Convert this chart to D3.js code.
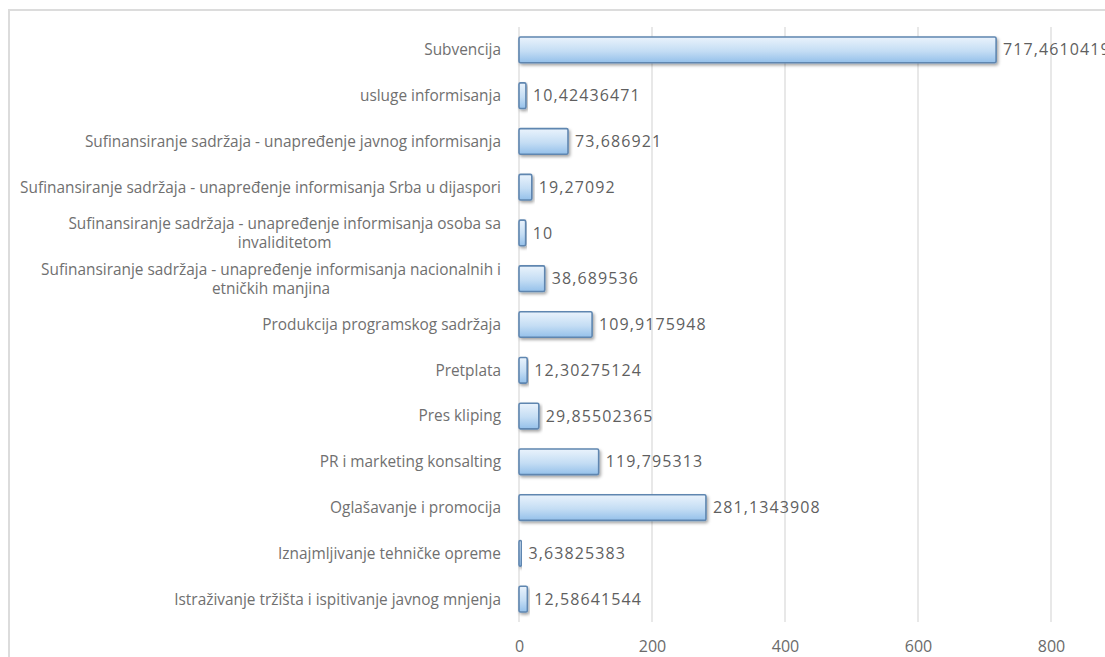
<!DOCTYPE html>
<html>
<head>
<meta charset="utf-8">
<script src="https://cdn.jsdelivr.net/npm/d3@7"></script>
<style>
  html, body { margin: 0; padding: 0; background: #fff; }
  svg { display: block; }
</style>
</head>
<body>
<svg id="chart" width="1105" height="657"></svg>
<script>
// Budget items (top to bottom) and their amounts
const categories = [
  "Subvencija",
  "usluge informisanja",
  "Sufinansiranje sadržaja - unapređenje javnog informisanja",
  "Sufinansiranje sadržaja - unapređenje informisanja Srba u dijaspori",
  "Sufinansiranje sadržaja - unapređenje informisanja osoba sa invaliditetom",
  "Sufinansiranje sadržaja - unapređenje informisanja nacionalnih i etničkih manjina",
  "Produkcija programskog sadržaja",
  "Pretplata",
  "Pres kliping",
  "PR i marketing konsalting",
  "Oglašavanje i promocija",
  "Iznajmljivanje tehničke opreme",
  "Istraživanje tržišta i ispitivanje javnog mnjenja"
];
const values = [
  717.4610419, 10.42436471, 73.686921, 19.27092, 10, 38.689536,
  109.9175948, 12.30275124, 29.85502365, 119.795313, 281.1343908,
  3.63825383, 12.58641544
];
const tickValues = [0, 200, 400, 600, 800];

const svg = d3.select("#chart");
const plot = { left: 519, right: 1051, top: 27, bottom: 622 };
const labelRight = 501;
const labelMaxWidth = 495;
const font = "'Open Sans', 'DejaVu Sans', sans-serif";
const catSize = 15.4;

// Chart frame
svg.append("rect")
  .attr("x", 9).attr("y", 10).attr("width", 1200).attr("height", 700)
  .attr("fill", "#fff").attr("stroke", "#dcdcdc").attr("stroke-width", 2);

const defs = svg.append("defs");
const grad = defs.append("linearGradient")
  .attr("id", "barFill").attr("x1", 0).attr("y1", 0).attr("x2", 0).attr("y2", 1);
grad.append("stop").attr("offset", "0%").attr("stop-color", "#eaf3fc");
grad.append("stop").attr("offset", "55%").attr("stop-color", "#c4ddf4");
grad.append("stop").attr("offset", "100%").attr("stop-color", "#94c0ea");
const shadow = defs.append("filter").attr("id", "barShadow")
  .attr("x", "-20%").attr("y", "-30%").attr("width", "140%").attr("height", "170%");
shadow.append("feDropShadow")
  .attr("dx", 1.5).attr("dy", 2).attr("stdDeviation", 1.4)
  .attr("flood-color", "#000").attr("flood-opacity", 0.35);

const x = d3.scaleLinear().domain([0, 800]).range([plot.left, plot.right]);
const y = d3.scaleBand().domain(categories).range([plot.top, plot.bottom]).paddingInner(0.44).paddingOuter(0.22);

// Vertical gridlines
svg.append("g").selectAll("line").data(tickValues).join("line")
  .attr("x1", d => x(d)).attr("x2", d => x(d))
  .attr("y1", plot.top).attr("y2", plot.bottom)
  .attr("stroke", "#d9d9d9").attr("stroke-width", 1.2);

// X axis tick labels
const xAxis = d3.axisBottom(x).tickValues(tickValues).tickSize(0).tickPadding(0).tickFormat(d3.format("d"));
const xg = svg.append("g").attr("transform", `translate(0,${plot.bottom + 19})`).call(xAxis);
xg.select(".domain").remove();
xg.selectAll("text")
  .attr("font-family", font).attr("font-size", 16).attr("fill", "#6b6b6b");

// Bars
svg.append("g").selectAll("rect").data(values).join("rect")
  .attr("x", x(0))
  .attr("y", (d, i) => y(categories[i]))
  .attr("width", d => x(d) - x(0))
  .attr("height", y.bandwidth())
  .attr("rx", 1.5)
  .attr("fill", "url(#barFill)")
  .attr("stroke", "#5f86b0").attr("stroke-width", 1.6)
  .attr("filter", "url(#barShadow)");

// Value labels
svg.append("g").selectAll("text").data(values).join("text")
  .attr("x", d => x(d) + 7)
  .attr("y", (d, i) => y(categories[i]) + y.bandwidth() / 2)
  .attr("dy", "0.35em")
  .attr("font-family", font).attr("font-size", 16).attr("letter-spacing", 1.1)
  .attr("fill", "#5f5f5f")
  .text(d => String(d).replace(".", ","));

// Category labels, wrapped when too wide and centred line by line
const catG = svg.append("g");
categories.forEach((c, i) => {
  const cy = y(c) + y.bandwidth() / 2;
  const probe = catG.append("text").attr("font-family", font).attr("font-size", catSize);
  const words = c.split(" ");
  const lines = [];
  let cur = [];
  words.forEach(w => {
    const trial = cur.concat([w]).join(" ");
    probe.text(trial);
    if (probe.node().getComputedTextLength() > labelMaxWidth && cur.length) {
      lines.push(cur.join(" "));
      cur = [w];
    } else {
      cur.push(w);
    }
  });
  lines.push(cur.join(" "));
  const widths = lines.map(l => { probe.text(l); return probe.node().getComputedTextLength(); });
  probe.remove();
  const maxW = d3.max(widths);
  const lh = 19;
  const cx = labelRight - maxW / 2;
  lines.forEach((l, k) => {
    catG.append("text")
      .attr("x", lines.length > 1 ? cx : labelRight)
      .attr("y", cy + (k - (lines.length - 1) / 2) * lh)
      .attr("dy", "0.35em")
      .attr("text-anchor", lines.length > 1 ? "middle" : "end")
      .attr("font-family", font).attr("font-size", catSize).attr("fill", "#707070")
      .text(l);
  });
});
</script>
</body>
</html>
